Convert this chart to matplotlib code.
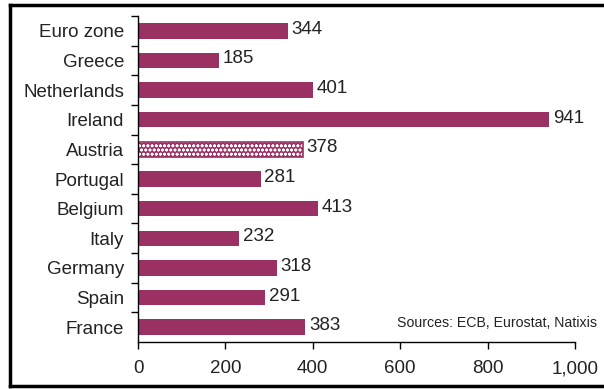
import matplotlib.pyplot as plt
from matplotlib.lines import Line2D

plt.rcParams['font.family'] = ['Liberation Sans', 'DejaVu Sans']
plt.rcParams['hatch.linewidth'] = 0.8

countries = ['Euro zone', 'Greece', 'Netherlands', 'Ireland', 'Austria', 'Portugal',
             'Belgium', 'Italy', 'Germany', 'Spain', 'France']
values = [344, 185, 401, 941, 378, 281, 413, 232, 318, 291, 383]
highlight = 'Austria'
xticks = [0, 200, 400, 600, 800, 1000]
xticklabels = ['0', '200', '400', '600', '800', '1,000']
source = 'Sources: ECB, Eurostat, Natixis'

maroon = '#9b3062'
fs = 13.5

fig = plt.figure(figsize=(6.04, 3.89), dpi=100)
ax = fig.add_axes([138 / 604, 47 / 389, (575 - 138) / 604, (373 - 47) / 389])

ypos = list(range(len(countries)))[::-1]
for y, c, v in zip(ypos, countries, values):
    if c == highlight:
        ax.barh(y, v, height=0.52, color=maroon, edgecolor='none')
        ax.barh(y, v, height=0.52, facecolor='none', edgecolor='white',
                hatch='oooo', linewidth=0)
        ax.barh(y, v, height=0.52, facecolor='none', edgecolor=maroon, linewidth=1.2)
    else:
        ax.barh(y, v, height=0.52, color=maroon, edgecolor='none')
    ax.text(v + 8, y + 0.05, str(v), va='center', ha='left', fontsize=fs, color='#222222')

ax.set_ylim(-0.5, len(countries) - 0.5)
ax.set_xlim(0, 1000)
ax.set_yticks([y + 0.5 for y in range(len(countries))])
ax.set_yticklabels([])
ax.set_yticks(ypos, minor=True)
ax.set_yticklabels(countries, minor=True, fontsize=fs, color='#222222')
ax.tick_params(axis='y', which='minor', length=0, pad=10)
ax.tick_params(axis='y', which='major', length=5, width=1, direction='out')
ax.set_xticks(xticks)
ax.set_xticklabels(xticklabels, fontsize=fs, color='#222222')
ax.tick_params(axis='x', length=5, width=1, direction='out', pad=8)

for side in ['top', 'right']:
    ax.spines[side].set_visible(False)
ax.spines['left'].set_linewidth(1)
ax.spines['bottom'].set_linewidth(1)

fig.text(597 / 604, 1 - 327 / 389, source, ha='right', va='baseline', fontsize=10.2, color='#222222')

# outer frame: left, top and bottom edges only (right edge falls outside the image)
x0, y0, y1 = 10 / 604, 3 / 389, 384 / 389
for xs, ys in [([x0, x0], [y0, y1]), ([x0, 1.05], [y1, y1]), ([x0, 1.05], [y0, y0])]:
    fig.lines.append(Line2D(xs, ys, transform=fig.transFigure, color='black',
                            linewidth=2.5, solid_capstyle='projecting'))

fig.savefig('out.png', dpi=100)
